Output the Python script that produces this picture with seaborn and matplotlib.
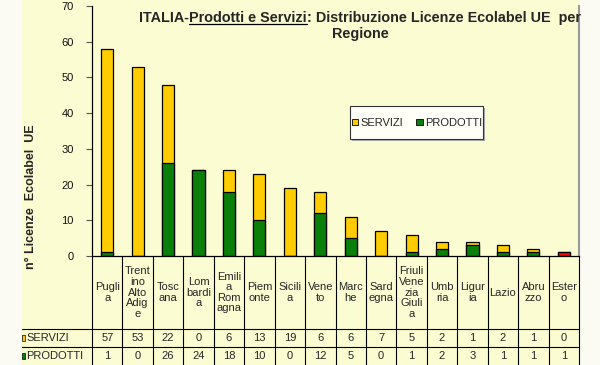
import numpy as np
import pandas as pd
import matplotlib
matplotlib.use("Agg")
import matplotlib.pyplot as plt
from matplotlib.patches import Rectangle, Patch
from matplotlib.lines import Line2D
import seaborn as sns

# data
regioni = ["Puglia", "Trentino Alto Adige", "Toscana", "Lombardia", "Emilia Romagna",
           "Piemonte", "Sicilia", "Veneto", "Marche", "Sardegna",
           "Friuli Venezia Giulia", "Umbria", "Liguria", "Lazio", "Abruzzo", "Estero"]
etichette = ["Pugli\na", "Trent\nino\nAlto\nAdig\ne", "Tosc\nana", "Lom\nbardi\na",
             "Emili\na\nRom\nagna", "Piem\nonte", "Sicili\na", "Vene\nto", "Marc\nhe",
             "Sard\negna", "Friuli\nVene\nzia\nGiuli\na", "Umb\nria", "Ligur\nia",
             "Lazio", "Abru\nzzo", "Ester\no"]
servizi = [57, 53, 22, 0, 6, 13, 19, 6, 6, 7, 5, 2, 1, 2, 1, 0]
prodotti = [1, 0, 26, 24, 18, 10, 0, 12, 5, 0, 1, 2, 3, 1, 1, 1]
yticks = [0, 10, 20, 30, 40, 50, 60, 70]

GIALLO = "#FFCC00"
VERDE = "#0A800A"
ROSSO = "#FF0000"
SFONDO = "#FCFCD2"

df = pd.DataFrame({"regione": regioni, "servizi": servizi, "prodotti": prodotti})
df["totale"] = df["servizi"] + df["prodotti"]
col_prod = [ROSSO if r == "Estero" else VERDE for r in regioni]

sns.set_style("ticks")
plt.rcParams["font.family"] = ["Liberation Sans", "DejaVu Sans"]

W, H = 600, 365
fig = plt.figure(figsize=(6, 3.65), dpi=100, facecolor="#FBFBF3")
fig.add_artist(Rectangle((22 / W, 0), (580 - 22) / W, 1, transform=fig.transFigure,
                         facecolor=SFONDO, edgecolor="none", zorder=0))

ax = fig.add_axes([92 / W, (H - 256) / H, (579 - 92) / W, 250 / H])
ax.set_facecolor(SFONDO)

sns.barplot(x="regione", y="totale", data=df, color=GIALLO, width=0.4,
            edgecolor="black", linewidth=0.9, errorbar=None, ax=ax, saturation=1)
sns.barplot(x="regione", y="prodotti", data=df, hue="regione", palette=col_prod,
            dodge=False, legend=False, width=0.4, edgecolor="black", linewidth=0.9,
            errorbar=None, ax=ax, saturation=1)

ax.set_xlim(-0.5, len(regioni) - 0.5)
ax.set_ylim(0, 70)
ax.set_yticks(yticks)
ax.tick_params(axis="y", direction="out", length=4, width=0.8, color="#555555",
               labelsize=8, pad=9, labelcolor="#111111")
ax.tick_params(axis="x", bottom=False, labelbottom=False)
ax.set_xlabel("")
ax.set_ylabel("")
for s in ["left", "bottom"]:
    ax.spines[s].set_color("black")
    ax.spines[s].set_linewidth(0.9)
ax.spines["right"].set_visible(True)
ax.spines["right"].set_color("#999999")
ax.spines["right"].set_linewidth(1.5)
ax.spines["top"].set_visible(False)

fig.text(31 / W, 1 - 197 / H, "n° Licenze  Ecolabel  UE", rotation=90, fontsize=9,
         fontweight="bold", ha="center", va="center")

# data table under the bars
tr = ax.get_xaxis_transform()
y_rows = [-(329 - 256) / 250, -(347 - 256) / 250, -(365 - 256) / 250]
for i in range(len(regioni) + 1):
    ax.add_line(Line2D([i - 0.5, i - 0.5], [0, y_rows[2] - 0.02], transform=tr,
                       color="black", lw=0.8, clip_on=False))
for yy in y_rows[:2]:
    fig.add_artist(Line2D([22 / W, 579 / W], [1 - (256 - yy * 250) / H] * 2,
                          color="black", lw=0.8))
for i, lab in enumerate(etichette):
    ax.text(i, y_rows[0] / 2, lab, transform=tr, ha="center", va="center",
            fontsize=8, linespacing=1.08)
    ax.text(i, (y_rows[0] + y_rows[1]) / 2, str(servizi[i]), transform=tr,
            ha="center", va="center", fontsize=8)
    ax.text(i, (y_rows[1] + y_rows[2]) / 2, str(prodotti[i]), transform=tr,
            ha="center", va="center", fontsize=8)
for nome, col, yc in [("SERVIZI", GIALLO, 338), ("PRODOTTI", VERDE, 356)]:
    fig.add_artist(Rectangle((22 / W, 1 - (yc + 3) / H), 3 / W, 6 / H,
                             facecolor=col, edgecolor="black", lw=0.5))
    fig.text(26 / W, 1 - yc / H, nome, fontsize=8, va="center", ha="left")

# legend box
fig.add_artist(Rectangle((352 / W, 1 - 141 / H), 133 / W, 33 / H,
                         facecolor="#AAAAAA", edgecolor="none", zorder=3))
fig.add_artist(Rectangle((350 / W, 1 - 139 / H), 133 / W, 33 / H,
                         facecolor="#FFFFF8", edgecolor="#333333", lw=0.8, zorder=4))
handles = [Patch(facecolor=GIALLO, edgecolor="black", lw=0.6, label="SERVIZI"),
           Patch(facecolor=VERDE, edgecolor="black", lw=0.6, label="PRODOTTI")]
leg = fig.legend(handles=handles, loc="center", bbox_to_anchor=(417 / W, 1 - 123 / H),
                 ncol=2, frameon=False, fontsize=8, handlelength=0.55, handleheight=0.55,
                 handletextpad=0.2, columnspacing=1.2)
leg.set_zorder(5)

# title with underlined part
fig.canvas.draw()
rend = fig.canvas.get_renderer()
parti = ["ITALIA-", "Prodotti e Servizi", ": Distribuzione Licenze Ecolabel UE  per"]
testi = [fig.text(0, 0, p, fontsize=10.4, fontweight="bold", va="baseline") for p in parti]
larghezze = [t.get_window_extent(rend).width for t in testi]
x = 360 - sum(larghezze) / 2
base1 = 22
for t, w in zip(testi, larghezze):
    t.set_position((x / W, 1 - base1 / H))
    if t.get_text() == "Prodotti e Servizi":
        fig.add_artist(Line2D([x / W, (x + w) / W], [1 - (base1 + 2) / H] * 2,
                              color="black", lw=0.9))
    x += w
fig.text(360 / W, 1 - 38 / H, "Regione", fontsize=10.4, fontweight="bold",
         ha="center", va="baseline")

fig.savefig("out.png", dpi=100, facecolor=fig.get_facecolor())
